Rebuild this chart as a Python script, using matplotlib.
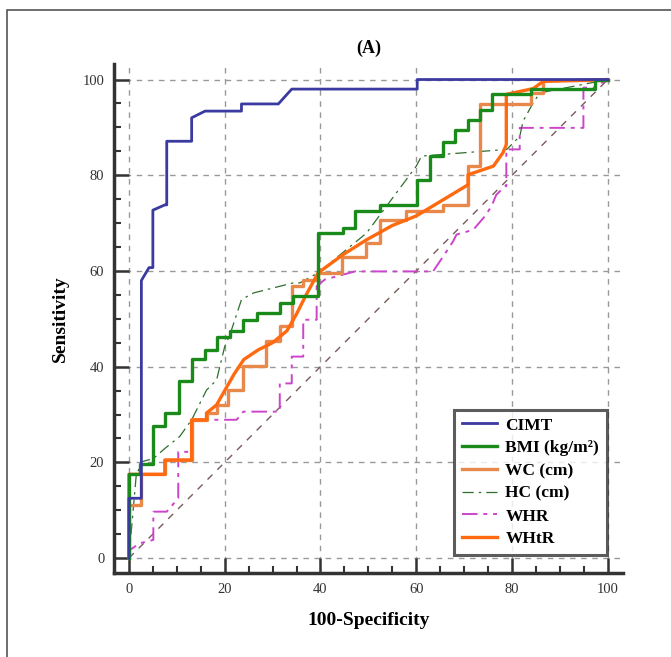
import matplotlib
matplotlib.use("Agg")
import matplotlib.pyplot as plt
from matplotlib.patches import Rectangle
from matplotlib.ticker import MultipleLocator

plt.rcParams['font.family'] = ['Liberation Serif', 'DejaVu Serif']

# ---- data ----
cimt_x = [0, 0, 2.6, 2.6, 4.2, 5.0, 5.0, 7.5, 7.9, 7.9, 13.1, 13.1, 15.9, 23.5, 23.5, 31.2, 34.0, 60.2, 60.2, 100]
cimt_y = [0, 12.5, 12.5, 58, 60.7, 60.7, 72.7, 73.8, 73.8, 87.1, 87.1, 92.0, 93.4, 93.4, 94.9, 94.9, 98.0, 98.0, 100, 100]

bmi_x = [0, 0, 2.3, 2.3, 5.1, 5.1, 7.5, 7.5, 10.5, 10.5, 13.1, 13.1, 15.9, 15.9, 18.3, 18.3, 21.1, 21.1, 23.9, 23.9, 26.7, 26.7, 31.5, 31.5, 34.2, 34.2, 39.5, 39.5, 44.7, 44.7, 47.2, 47.2, 52.4, 52.4, 60.2, 60.2, 62.8, 62.8, 65.6, 65.6, 68.1, 68.1, 70.8, 70.8, 73.3, 73.3, 75.9, 75.9, 84.0, 84.0, 97.3, 97.3, 100]
bmi_y = [0, 17.5, 17.5, 19.6, 19.6, 27.5, 27.5, 30.3, 30.3, 37.0, 37.0, 41.7, 41.7, 43.4, 43.4, 46.2, 46.2, 47.5, 47.5, 49.8, 49.8, 51.3, 51.3, 53.3, 53.3, 54.7, 54.7, 67.9, 67.9, 69.0, 69.0, 72.5, 72.5, 73.8, 73.8, 79.1, 79.1, 84.0, 84.0, 86.9, 86.9, 89.4, 89.4, 91.6, 91.6, 93.7, 93.7, 96.9, 96.9, 98.0, 98.0, 100, 100]

wc_x = [0, 0, 2.5, 2.5, 7.5, 7.5, 13.1, 13.1, 16.2, 16.2, 18.3, 18.3, 20.7, 20.7, 23.9, 23.9, 28.7, 28.7, 31.5, 31.5, 34.0, 34.0, 36.4, 36.4, 39.5, 39.5, 44.4, 44.4, 49.6, 49.6, 52.4, 52.4, 57.9, 57.9, 65.6, 65.6, 70.8, 70.8, 73.3, 73.3, 84.0, 84.0, 86.5, 86.5, 100]
wc_y = [0, 11.1, 11.1, 17.5, 17.5, 20.5, 20.5, 28.9, 28.9, 30.3, 30.3, 32.0, 32.0, 35.1, 35.1, 40.2, 40.2, 45.3, 45.3, 48.4, 48.4, 56.8, 56.8, 58.2, 58.2, 59.6, 59.6, 63.0, 63.0, 65.8, 65.8, 70.7, 70.7, 72.5, 72.5, 73.8, 73.8, 81.9, 81.9, 94.8, 94.8, 97.2, 97.2, 100, 100]

hc_x = [0, 1.5, 2.6, 5.1, 7.5, 10.6, 13.1, 16.2, 18.3, 20.0, 21.1, 23.5, 26.0, 34.3, 35.7, 39.5, 49.6, 60.0, 61.1, 78.9, 81.6, 82.3, 84.4, 85.8, 100]
hc_y = [0, 17.0, 20.1, 20.8, 22.9, 25.4, 28.9, 35.1, 37.2, 44.2, 46.7, 54.0, 55.4, 57.5, 57.5, 59.6, 67.9, 81.9, 84.0, 85.4, 88.1, 91.3, 95.1, 97.2, 100]

whr_x = [0, 0.2, 2.3, 5.1, 5.1, 7.9, 10.3, 10.3, 13.1, 13.1, 22.5, 23.9, 30.8, 31.5, 31.5, 34.0, 34.0, 36.4, 36.4, 39.2, 39.2, 40.9, 47.2, 63.5, 65.6, 67.7, 68.4, 71.9, 74.3, 75.7, 76.7, 78.5, 78.8, 78.8, 81.6, 81.6, 94.9, 94.9, 97.0, 100]
whr_y = [0, 1.7, 3.1, 3.8, 9.7, 9.7, 12.5, 22.2, 22.2, 28.9, 28.9, 30.6, 30.6, 30.6, 36.5, 36.5, 42.1, 42.1, 49.8, 49.8, 56.8, 58.2, 59.9, 59.9, 63.0, 66.2, 67.6, 68.6, 71.4, 73.5, 75.9, 77.7, 77.7, 85.4, 85.4, 89.9, 89.9, 98.3, 98.3, 100]

whtr_x = [0, 0, 7.5, 7.5, 13.1, 13.1, 16.2, 16.2, 18.3, 20.0, 22.0, 24.0, 27.0, 30.0, 33.0, 35.0, 37.0, 39.5, 44.7, 49.6, 55.0, 60.0, 65.0, 70.8, 70.8, 76.1, 78.1, 78.8, 78.8, 84.4, 86.5, 100]
whtr_y = [0, 17.5, 17.5, 20.5, 20.5, 28.9, 28.9, 30.3, 32.0, 35.0, 38.5, 41.5, 43.5, 45.0, 47.5, 51.0, 55.0, 59.6, 63.4, 66.5, 69.5, 71.5, 74.5, 78.0, 80.1, 81.9, 84.7, 86.4, 96.9, 98.1, 99.6, 100]

ref_x = [0, 100]
ref_y = [0, 100]

ticks = [0, 20, 40, 60, 80, 100]

fig = plt.figure(figsize=(6.71, 6.57), dpi=100)
fig.patches.append(Rectangle((7/671, -0.1), 1.2, 1 - 10/657 + 0.1, transform=fig.transFigure,
                             fill=False, edgecolor='#555555', linewidth=1.2))
ax = fig.add_axes([0.170, 0.128, 0.758, 0.775])
ax.set_xlim(-3.1, 103.1)
ax.set_ylim(-3.1, 103.3)

for t in ticks:
    ax.plot([t, t], [-3.1, 103.3], color='#999999', lw=1.0, ls=(0, (4, 4)), zorder=1)
    ax.plot([-3.1, 103.1], [t, t], color='#999999', lw=1.0, ls=(0, (4, 4)), zorder=1)

ax.plot(ref_x, ref_y, color='#7a5a5a', lw=1.0, ls=(0, (5, 5)), zorder=2)
ax.plot(whr_x, whr_y, color='#cc44cc', lw=1.4, ls=(0, (8, 3, 2, 3)), label='WHR', zorder=3)
ax.plot(hc_x, hc_y, color='#2e6e2e', lw=0.9, ls=(0, (9, 4, 2, 4)), label='HC (cm)', zorder=4)
ax.plot(wc_x, wc_y, color='#e8884a', lw=2.4, label='WC (cm)', zorder=5)
ax.plot(whtr_x, whtr_y, color='#ff6a10', lw=2.4, label='WHtR', zorder=5)
ax.plot(bmi_x, bmi_y, color='#1a8a1a', lw=2.4, label='BMI (kg/m²)', zorder=6)
ax.plot(cimt_x, cimt_y, color='#3a3aa0', lw=2.0, label='CIMT', zorder=7)

ax.spines['top'].set_visible(False)
ax.spines['right'].set_visible(False)
for s in ['left', 'bottom']:
    ax.spines[s].set_linewidth(2.5)
    ax.spines[s].set_color('#333333')

ax.set_xticks(ticks)
ax.set_yticks(ticks)
ax.xaxis.set_minor_locator(MultipleLocator(5))
ax.yaxis.set_minor_locator(MultipleLocator(5))
ax.tick_params(which='major', direction='in', length=10.5, width=1.8, color='#333333',
               labelsize=10.5, labelcolor='#333333', pad=7)
ax.tick_params(which='minor', direction='in', length=5, width=1.5, color='#333333')

ax.set_xlabel('100-Specificity', fontsize=14, fontweight='bold', labelpad=12)
ax.set_ylabel('Sensitivity', fontsize=14, fontweight='bold', labelpad=10)
ax.set_title('(A)', fontsize=13, fontweight='bold', pad=8)

h, l = ax.get_legend_handles_labels()
order = ['CIMT', 'BMI (kg/m²)', 'WC (cm)', 'HC (cm)', 'WHR', 'WHtR']
hd = dict(zip(l, h))
leg = ax.legend([hd[k] for k in order], order, loc='lower right', bbox_to_anchor=(0.969, 0.035),
                prop={'family': ['Liberation Serif'], 'weight': 'bold', 'size': 12.5},
                frameon=True, fancybox=False, edgecolor='#333333', handlelength=2.0,
                labelspacing=0.38, borderpad=0.45, handletextpad=0.5, borderaxespad=0.0)
leg.get_frame().set_linewidth(2.2)
leg.set_zorder(10)

fig.savefig('out.png', dpi=100)
